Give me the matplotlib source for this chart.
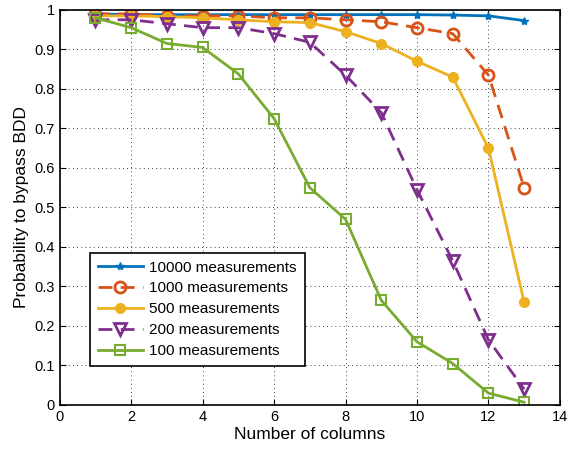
import numpy as np
import matplotlib.pyplot as plt

plt.rcParams['font.family'] = ['Liberation Sans', 'DejaVu Sans']

# data
columns = [1, 2, 3, 4, 5, 6, 7, 8, 9, 10, 11, 12, 13]
p_10000 = [0.99, 0.988, 0.988, 0.988, 0.988, 0.988, 0.988, 0.988, 0.988, 0.988, 0.987, 0.985, 0.973]
p_1000 = [0.99, 0.99, 0.985, 0.985, 0.985, 0.98, 0.98, 0.975, 0.97, 0.955, 0.94, 0.835, 0.55]
p_500 = [0.985, 0.985, 0.983, 0.98, 0.975, 0.97, 0.968, 0.945, 0.915, 0.87, 0.83, 0.65, 0.26]
p_200 = [0.975, 0.975, 0.965, 0.955, 0.955, 0.94, 0.918, 0.835, 0.74, 0.545, 0.365, 0.165, 0.04]
p_100 = [0.98, 0.955, 0.915, 0.905, 0.838, 0.725, 0.55, 0.47, 0.265, 0.16, 0.105, 0.03, 0.007]

labels = ['10000 measurements', '1000 measurements', '500 measurements',
          '200 measurements', '100 measurements']

blue = (0, 0.447, 0.741)
orange = (0.85, 0.325, 0.098)
yellow = (0.929, 0.694, 0.125)
purple = (0.494, 0.184, 0.556)
green = (0.466, 0.674, 0.188)

fig = plt.figure(figsize=(5.69, 4.51), dpi=100)
ax = fig.add_axes([0.105, 0.102, 0.879, 0.876])

ax.plot(columns, p_10000, color=blue, lw=2, marker='*', ms=6, mfc=blue, label=labels[0])
ax.plot(columns, p_1000, color=orange, lw=2, ls=(0, (5, 3)), marker='o', ms=8,
        mfc='none', mew=2, label=labels[1])
ax.plot(columns, p_500, color=yellow, lw=2, marker='o', ms=7, mfc=yellow, label=labels[2])
ax.plot(columns, p_200, color=purple, lw=2, ls=(0, (5, 3)), marker='v', ms=9,
        mfc='none', mew=2, label=labels[3])
ax.plot(columns, p_100, color=green, lw=2, marker='s', ms=7, mfc='none', mew=1.5, label=labels[4])

ax.set_xlim(0, 14)
ax.set_ylim(0, 1)
ax.set_xticks(np.arange(0, 15, 2))
ax.set_yticks(np.arange(0, 1.01, 0.1))
ax.set_yticklabels(['0', '0.1', '0.2', '0.3', '0.4', '0.5', '0.6', '0.7', '0.8', '0.9', '1'])
ax.tick_params(direction='in', labelsize=10.5, top=True, right=True, length=4)
ax.grid(True, ls=(0, (1, 4)), color='black', lw=0.6)
for s in ax.spines.values():
    s.set_linewidth(1.2)

ax.set_xlabel('Number of columns', fontsize=12.5, labelpad=2)
ax.set_ylabel('Probability to bypass BDD', fontsize=12.5, labelpad=4)

leg = ax.legend(loc='lower left', bbox_to_anchor=(0.045, 0.08), fontsize=11,
                fancybox=False, edgecolor='black', framealpha=1, handlelength=3,
                borderpad=0.5, labelspacing=0.45, handletextpad=0.4)
leg.get_frame().set_linewidth(1.2)

fig.savefig('out.png', dpi=100)
